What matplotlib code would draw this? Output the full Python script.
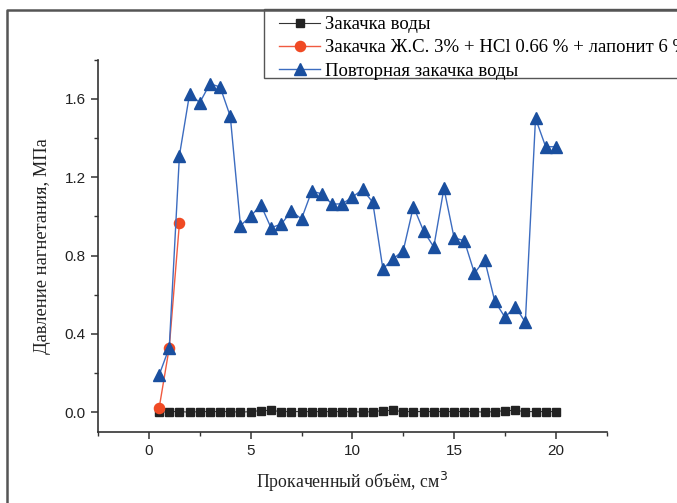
import matplotlib
matplotlib.use("Agg")
import matplotlib.pyplot as plt
from matplotlib.lines import Line2D
from matplotlib.patches import Rectangle
from matplotlib.ticker import MultipleLocator

x_water = [0.5 * i for i in range(1, 41)]
y_water = [0.000, 0.004, 0.004, 0.001, 0.004, 0.004, 0.004, 0.004, 0.001, 0.004,
           0.009, 0.010, 0.004, 0.004, 0.004, 0.004, 0.004, 0.004, 0.004, 0.004,
           0.001, 0.004, 0.009, 0.010, 0.004, 0.004, 0.004, 0.004, 0.004, 0.004,
           0.004, 0.004, 0.001, 0.004, 0.009, 0.010, 0.004, 0.004, 0.004, 0.004]

x_gel = [0.5, 1.0, 1.5]
y_gel = [0.02, 0.33, 0.965]

x_rep = [0.5 * i for i in range(1, 41)]
y_rep = [0.19, 0.33, 1.31, 1.625, 1.58, 1.676, 1.66, 1.51, 0.953, 1.00,
         1.058, 0.942, 0.96, 1.026, 0.987, 1.128, 1.115, 1.062, 1.064, 1.098,
         1.137, 1.072, 0.732, 0.783, 0.825, 1.05, 0.925, 0.844, 1.143, 0.89,
         0.876, 0.71, 0.778, 0.567, 0.485, 0.54, 0.46, 1.50, 1.355, 1.355]

labels = ["Закачка воды",
          "Закачка Ж.С. 3% + HCl 0.66 % + лапонит 6 %",
          "Повторная закачка воды"]

W, H = 677, 503
fig = plt.figure(figsize=(6.77, 5.03), dpi=100)
ax = fig.add_axes([0.1448, 0.1412, 0.8962 - 0.1448, 0.8817 - 0.1412])

ax.plot(x_water, y_water, color="#333333", lw=0.8, marker="s", ms=5.3,
        mfc="#222222", mec="#222222", label=labels[0], zorder=3)
ax.plot(x_gel, y_gel, color="#f05a40", lw=1.0, marker="o", ms=7.3,
        mfc="#f04a24", mec="#f04a24", label=labels[1], zorder=4)
ax.plot(x_rep, y_rep, color="#3c6cc0", lw=1.0, marker="^", ms=8.2,
        mfc="#1a4f9f", mec="#1a4f9f", label=labels[2], zorder=5)

ax.set_xlim(-2.5, 22.5)
ax.set_ylim(-0.1, 1.8)
ax.xaxis.set_major_locator(MultipleLocator(5))
ax.xaxis.set_minor_locator(MultipleLocator(2.5))
ax.yaxis.set_major_locator(MultipleLocator(0.4))
ax.yaxis.set_minor_locator(MultipleLocator(0.2))
ax.yaxis.set_major_formatter(matplotlib.ticker.FormatStrFormatter("%.1f"))

for s in ["top", "right"]:
    ax.spines[s].set_visible(False)
for s in ["left", "bottom"]:
    ax.spines[s].set_color("#333333")
    ax.spines[s].set_linewidth(1.2)

ax.tick_params(which="major", direction="out", length=5, width=1.1, color="#333333",
               labelsize=11, labelcolor="#222222", pad=4)
ax.tick_params(which="minor", direction="out", length=3, width=1.0, color="#333333")
for t in ax.get_xticklabels() + ax.get_yticklabels():
    t.set_fontfamily("Liberation Sans")

ax.set_xlabel("Прокаченный объём, см$^3$", family="Liberation Serif", fontsize=12.8,
              color="#222222", labelpad=8)
ax.set_ylabel("Давление нагнетания, МПа", family="Liberation Serif", fontsize=13.3,
              color="#222222", labelpad=10)

# legend frame drawn separately (it runs past the right edge of the figure)
box = Rectangle((264 / W, 1 - 78.3 / H), 0.8, 69 / H, transform=fig.transFigure,
                facecolor="white", edgecolor="#555555", lw=1.0, zorder=4)
fig.add_artist(box)

leg = fig.legend(loc="upper left", bbox_to_anchor=(279 / W, 1 - 16 / H),
                 bbox_transform=fig.transFigure, borderaxespad=0, frameon=False,
                 prop={"family": "Liberation Serif", "size": 13.5},
                 handlelength=2.2, handletextpad=0.27, labelspacing=0.33,
                 borderpad=0, markerscale=1.0)
leg.set_zorder(5)

fx = 7 / W
fy = 1 - 10 / H
fig.add_artist(Line2D([fx, fx, 1.0], [0.0, fy, fy], transform=fig.transFigure,
                      color="#555555", lw=1.8, zorder=6))

fig.savefig("out.png", dpi=100)
